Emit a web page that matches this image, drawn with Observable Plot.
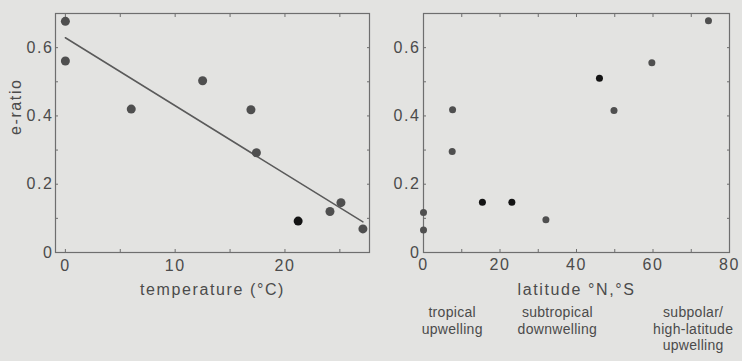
<!DOCTYPE html>
<html>
<head>
<meta charset="utf-8">
<script src="https://cdn.jsdelivr.net/npm/d3@7"></script>
<script src="https://cdn.jsdelivr.net/npm/@observablehq/plot@0.6"></script>
<style>
  html, body { margin: 0; padding: 0; background: #e3e3e1; }
  #wrap { position: relative; width: 742px; height: 361px; overflow: hidden; }
  #left { position: absolute; left: 0; top: 0; }
  #right { position: absolute; left: 372px; top: 0; }
  svg text { letter-spacing: 1.6px; }
  svg .region text { letter-spacing: 0.3px; }
</style>
</head>
<body>
<div id="wrap"><div id="left"></div><div id="right"></div></div>
<script>
// Left panel: e-ratio vs temperature
const temperature = [0, 0, 6, 12.5, 16.9, 17.4, 21.2, 24.1, 25.1, 27.1];
const eRatioTemp  = [0.677, 0.561, 0.42, 0.503, 0.418, 0.292, 0.092, 0.12, 0.146, 0.069];
const darkTemp    = [false, false, false, false, false, false, true, false, false, false];

// Right panel: e-ratio vs latitude
const latitude   = [0, 0, 7.6, 7.5, 15.4, 23.1, 32, 46, 49.8, 59.7, 74.5];
const eRatioLat  = [0.117, 0.066, 0.418, 0.296, 0.147, 0.147, 0.096, 0.51, 0.416, 0.556, 0.679];
const darkLat    = [false, false, false, false, true, true, false, true, false, false, false];

// Region labels under the latitude axis
const regionNames = ["tropical\nupwelling", "subtropical\ndownwelling", "subpolar/\nhigh-latitude\nupwelling"];
const regionLat   = [7.5, 35, 70.5];

const yTicks = [0, 0.2, 0.4, 0.6];
const tempTicks = [0, 10, 20];
const latTicks = [0, 20, 40, 60, 80];

const tempData = temperature.map((t, i) => ({t, e: eRatioTemp[i], dark: darkTemp[i]}));
const latData = latitude.map((l, i) => ({l, e: eRatioLat[i], dark: darkLat[i]}));
const regions = regionNames.map((name, i) => ({name, lat: regionLat[i]}));

const textColor = "#4b4b4b";
const frameColor = "#6e6e6e";
const dotGray = "#4f4f4f";
const dotBlack = "#141414";
const font = "'Liberation Sans', Arial, Helvetica, sans-serif";
const fmtY = d => d === 0 ? "0" : d3.format(".1f")(d);
const fs = 16;

const minorY = d3.range(0, 0.701, 0.1);

const left = Plot.plot({
  width: 372, height: 361,
  marginLeft: 55, marginRight: 3, marginTop: 13, marginBottom: 109,
  x: {domain: [-0.9, 27.7]},
  y: {domain: [0, 0.7]},
  style: {background: "transparent", fontFamily: font, fontSize: fs + "px", color: textColor},
  marks: [
    Plot.frame({stroke: frameColor, strokeWidth: 1.2}),
    Plot.axisX(d3.range(0, 27, 5), {anchor: "bottom", tickSize: -3, text: null, stroke: frameColor, label: null}),
    Plot.axisX(d3.range(0, 27, 5), {anchor: "top", tickSize: -3, text: null, stroke: frameColor, label: null}),
    Plot.axisY(minorY, {anchor: "left", tickSize: -3, text: null, stroke: frameColor, label: null}),
    Plot.axisY(minorY, {anchor: "right", tickSize: -3, text: null, stroke: frameColor, label: null}),
    Plot.axisX(tempTicks, {anchor: "bottom", tickSize: 0, tickPadding: 7, label: null, fontSize: fs, fill: textColor}),
    Plot.axisY(yTicks, {anchor: "left", tickSize: 0, tickPadding: 2, label: null, tickFormat: fmtY, fontSize: fs, fill: textColor}),
    Plot.text(["temperature (°C)"], {frameAnchor: "bottom", dy: 42, fontSize: fs, fill: textColor}),
    Plot.text(["e-ratio"], {frameAnchor: "left", dx: -40, dy: 2, rotate: -90, fontSize: fs, fill: textColor}),
    Plot.linearRegressionY(tempData, {x: "t", y: "e", ci: 0, stroke: "#5a5a5a", strokeWidth: 1.5}),
    Plot.dot(tempData, {x: "t", y: "e", r: 4.5, fill: d => d.dark ? dotBlack : dotGray, stroke: "none"})
  ]
});

const right = Plot.plot({
  width: 370, height: 361,
  marginLeft: 51, marginRight: 13, marginTop: 13, marginBottom: 109,
  x: {domain: [0, 80]},
  y: {domain: [0, 0.7]},
  style: {background: "transparent", fontFamily: font, fontSize: fs + "px", color: textColor, overflow: "visible"},
  marks: [
    Plot.frame({stroke: frameColor, strokeWidth: 1.2}),
    Plot.axisX(d3.range(0, 81, 10), {anchor: "bottom", tickSize: -3, text: null, stroke: frameColor, label: null}),
    Plot.axisX(d3.range(0, 81, 10), {anchor: "top", tickSize: -3, text: null, stroke: frameColor, label: null}),
    Plot.axisY(minorY, {anchor: "left", tickSize: -3, text: null, stroke: frameColor, label: null}),
    Plot.axisY(minorY, {anchor: "right", tickSize: -3, text: null, stroke: frameColor, label: null}),
    Plot.axisX(latTicks, {anchor: "bottom", tickSize: 0, tickPadding: 6, label: null, fontSize: fs, fill: textColor}),
    Plot.axisY(yTicks, {anchor: "left", tickSize: 0, tickPadding: 3, label: null, tickFormat: fmtY, fontSize: fs, fill: textColor}),
    Plot.text(["latitude °N,°S"], {frameAnchor: "bottom", dy: 42, fontSize: fs, fill: textColor}),
    Plot.text(regions, {x: "lat", text: "name", frameAnchor: "bottom", lineAnchor: "top", dy: 53, fontSize: 14, lineHeight: 1.17, fill: textColor, className: "region"}),
    Plot.dot(latData, {x: "l", y: "e", r: 3.5, fill: d => d.dark ? dotBlack : dotGray, stroke: "none", clip: false})
  ]
});

document.getElementById("left").appendChild(left);
document.getElementById("right").appendChild(right);
</script>
</body>
</html>
